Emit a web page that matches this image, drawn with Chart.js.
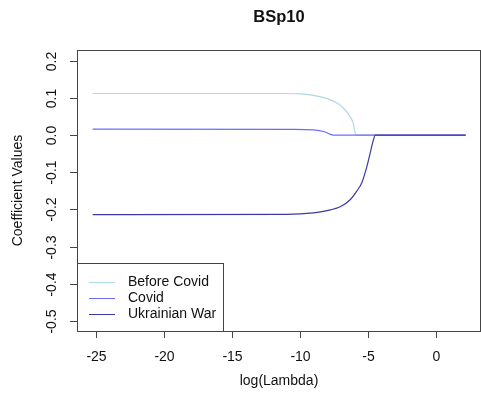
<!DOCTYPE html>
<html>
<head>
<meta charset="utf-8">
<script src="https://cdn.jsdelivr.net/npm/chart.js@4.4.1/dist/chart.umd.min.js"></script>
<style>
  html, body { margin: 0; padding: 0; background: #fff; }
  #wrap { width: 481px; height: 405px; }
</style>
</head>
<body>
<div id="wrap"><canvas id="chart" width="481" height="405"></canvas></div>
<script>
// values
var lambdaBefore = [-25.25, -11.5, -10, -9, -8, -7.3, -6.8, -6.4, -6.1, -5.86, 2.2];
var beforeCovid = [0.112, 0.112, 0.111, 0.107, 0.098, 0.087, 0.073, 0.055, 0.035, 0, 0];
var lambdaCovid = [-25.25, -10.5, -9, -8.2, -7.55, 2.2];
var covid = [0.016, 0.0155, 0.014, 0.009, 0, 0];
var lambdaWar = [-25.25, -11, -9, -8, -7, -6.3, -5.8, -5.44, -5.07, -4.83, -4.6, -4.45, 2.2];
var ukrainianWar = [-0.214, -0.213, -0.209, -0.203, -0.192, -0.174, -0.15, -0.128, -0.085, -0.049, -0.015, 0, 0];
var xTicks = [-25, -20, -15, -10, -5, 0];
var yTicks = [0.2, 0.1, 0.0, -0.1, -0.2, -0.3, -0.4, -0.5];
var seriesNames = ['Before Covid', 'Covid', 'Ukrainian War'];
var seriesColors = ['#add8e6', '#6c6cff', '#3a3aa4'];

var font = '"Liberation Sans", Arial, sans-serif';

function toPoints(xs, ys) {
  return xs.map(function(x, i) { return {x: x, y: ys[i]}; });
}

// draws the R-style box, axes, labels and legend
var basePlot = {
  id: 'basePlot',
  afterDraw: function(chart) {
    var ctx = chart.ctx;
    var a = chart.chartArea;
    var xs = chart.scales.x;
    var ys = chart.scales.y;
    ctx.save();
    ctx.strokeStyle = '#444';
    ctx.lineWidth = 1;
    ctx.strokeRect(a.left + 0.5, a.top + 0.5, a.right - a.left - 1, a.bottom - a.top);

    ctx.fillStyle = '#111';
    ctx.font = '14px ' + font;
    ctx.textAlign = 'center';
    ctx.textBaseline = 'middle';
    // x axis
    xTicks.forEach(function(t) {
      var px = Math.round(xs.getPixelForValue(t)) + 0.5;
      ctx.beginPath();
      ctx.moveTo(px, a.bottom);
      ctx.lineTo(px, a.bottom + 7);
      ctx.stroke();
      ctx.fillText(String(t), px, 357);
    });
    // y axis
    yTicks.forEach(function(t) {
      var py = Math.round(ys.getPixelForValue(t)) + 0.5;
      ctx.beginPath();
      ctx.moveTo(a.left, py);
      ctx.lineTo(a.left - 7, py);
      ctx.stroke();
      ctx.save();
      ctx.translate(52, py);
      ctx.rotate(-Math.PI / 2);
      ctx.fillText(t.toFixed(1), 0, 0);
      ctx.restore();
    });
    // titles
    ctx.fillText('log(Lambda)', (a.left + a.right) / 2, 381);
    ctx.save();
    ctx.translate(18, (a.top + a.bottom) / 2);
    ctx.rotate(-Math.PI / 2);
    ctx.fillText('Coefficient Values', 0, 0);
    ctx.restore();
    ctx.font = 'bold 16.5px ' + font;
    ctx.fillText('BSp10', (a.left + a.right) / 2, 17);

    // legend
    var lx = a.left, ly = 263, lw = 146, lh = a.bottom - 263;
    ctx.fillStyle = '#fff';
    ctx.fillRect(lx, ly, lw, lh);
    ctx.strokeStyle = '#444';
    ctx.strokeRect(lx + 0.5, ly + 0.5, lw, lh);
    ctx.font = '14px ' + font;
    ctx.textAlign = 'left';
    seriesNames.forEach(function(name, i) {
      var yy = 282 + i * 16;
      ctx.strokeStyle = seriesColors[i];
      ctx.beginPath();
      ctx.moveTo(89, yy + 0.5);
      ctx.lineTo(115, yy + 0.5);
      ctx.stroke();
      ctx.fillStyle = '#111';
      ctx.fillText(name, 128, yy);
    });
    ctx.restore();
  }
};

new Chart(document.getElementById('chart').getContext('2d'), {
  type: 'line',
  data: {
    datasets: [{
      label: seriesNames[0],
      data: toPoints(lambdaBefore, beforeCovid),
      borderColor: seriesColors[0],
      order: 2,
    }, {
      label: seriesNames[1],
      data: toPoints(lambdaCovid, covid),
      borderColor: seriesColors[1],
      order: 1,
    }, {
      label: seriesNames[2],
      data: toPoints(lambdaWar, ukrainianWar),
      borderColor: seriesColors[2],
      order: 0,
    }],
  },
  options: {
    responsive: false,
    animation: false,
    devicePixelRatio: 1,
    layout: {padding: {left: 77, right: 0, top: 50, bottom: 74}},
    elements: {
      line: {borderWidth: 1.2, cubicInterpolationMode: 'monotone', fill: false},
      point: {radius: 0},
    },
    scales: {
      x: {type: 'linear', min: -26.4, max: 3.33, display: false},
      y: {type: 'linear', min: -0.527, max: 0.229, display: false},
    },
    plugins: {legend: {display: false}, tooltip: {enabled: false}},
  },
  plugins: [basePlot],
});
</script>
</body>
</html>
